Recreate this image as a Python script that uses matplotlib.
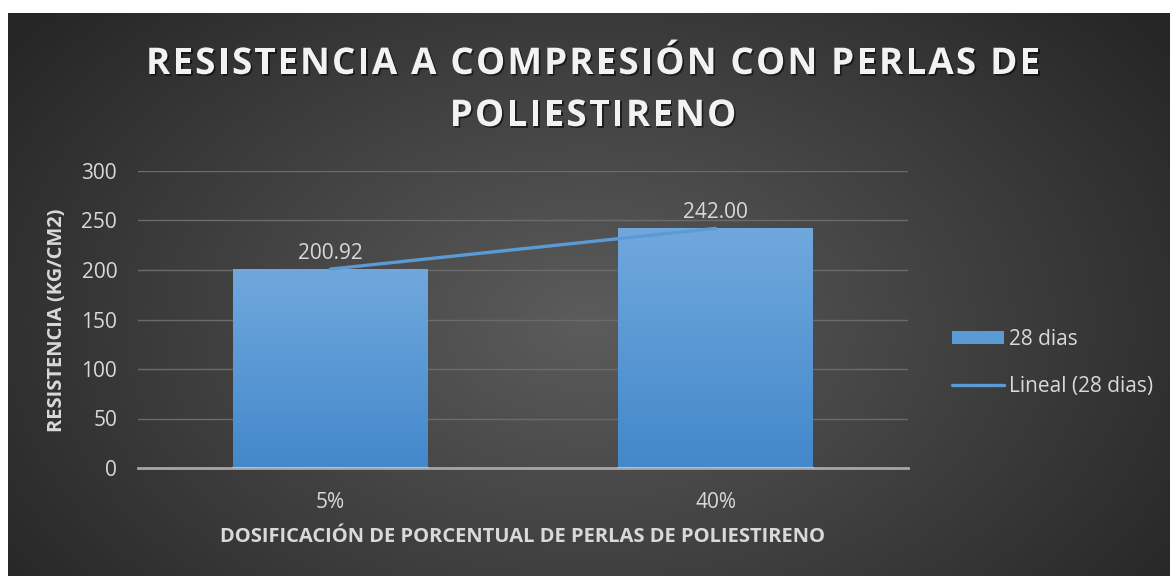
import numpy as np
import matplotlib
matplotlib.use("Agg")
import matplotlib.pyplot as plt
import matplotlib.patheffects as pe
from matplotlib.colors import LinearSegmentedColormap

plt.rcParams.update({"font.family": ["Open Sans", "DejaVu Sans"], "figure.dpi": 100})

categories = ["5%", "40%"]
values = [200.92, 242.00]
series_name = "28 dias"
trend_name = "Lineal (28 dias)"
title_lines = ["RESISTENCIA A COMPRESIÓN CON PERLAS DE", "POLIESTIRENO"]
xlabel = "DOSIFICACIÓN DE PORCENTUAL DE PERLAS DE POLIESTIRENO"
ylabel = "RESISTENCIA (KG/CM2)"
yticks = [0, 50, 100, 150, 200, 250, 300]

W, H = 1170, 576
TXT = "#d9d9d9"
BAR_TOP, BAR_BOT = "#70a8dd", "#4388cb"
LINE = "#5b9bd5"


def fx(px):
    return px / W


def fy(py):
    return 1 - py / H


fig = plt.figure(figsize=(W / 100, H / 100), dpi=100)
fig.patch.set_facecolor("white")

# dark radial background panel
bg = fig.add_axes([fx(8), 0, 1 - fx(8), fy(13)])
bg.set_axis_off()
gx, gy = np.meshgrid(np.linspace(0, 1, 400), np.linspace(0, 1, 200))
r = np.sqrt(((gx - 0.5) / 0.62) ** 2 + ((gy - 0.55) / 0.85) ** 2)
r = np.clip(r, 0, 1)
c0, c1 = np.array([0x5c, 0x5c, 0x5c]) / 255, np.array([0x26, 0x26, 0x26]) / 255
img = c0[None, None, :] * (1 - r[..., None]) + c1[None, None, :] * r[..., None]
bg.imshow(img, aspect="auto", extent=[0, 1, 0, 1], origin="upper")

ax = fig.add_axes([fx(138), fy(468), fx(908 - 138), fy(171) - fy(468)])
ax.patch.set_alpha(0)
x = np.arange(len(categories))
bars = ax.bar(x, values, width=0.505, color="none", zorder=3)
grad = LinearSegmentedColormap.from_list("bar", [BAR_BOT, BAR_TOP])
for b in bars:
    x0, w, h = b.get_x(), b.get_width(), b.get_height()
    im = ax.imshow(np.linspace(0, 1, 100).reshape(-1, 1), cmap=grad, origin="lower",
                   extent=[x0, x0 + w, 0, h], aspect="auto", zorder=3)
    im.set_clip_path(b)
    ax.plot([x0, x0 + w], [0, 0], color="#9fc4ea", lw=1.5, zorder=4)

# linear trend through bar centres
coef = np.polyfit(x, values, 1)
ax.plot(x, np.polyval(coef, x), color=LINE, lw=2.4, solid_capstyle="round", zorder=5)

for xi, v in zip(x, values):
    ax.annotate(f"{v:.2f}", (xi, v), xytext=(0, 4), textcoords="offset points",
                ha="center", va="bottom", color=TXT, fontsize=15, zorder=6)

ax.set_xlim(-0.5, 1.5)
ax.set_ylim(0, 300)
ax.set_yticks(yticks)
ax.set_xticks(x)
ax.set_xticklabels(categories)
ax.tick_params(axis="both", length=0, colors=TXT, labelsize=15)
ax.tick_params(axis="y", pad=15)
ax.tick_params(axis="x", pad=17)
ax.grid(axis="y", color="#6b6b6b", lw=1, zorder=0)
for s in ["top", "right", "left"]:
    ax.spines[s].set_visible(False)
ax.spines["bottom"].set_color("#a6a6a6")
ax.spines["bottom"].set_linewidth(2)
ax.spines["bottom"].set_zorder(2)

leg = ax.legend([bars[0], ax.lines[-1]], [series_name, trend_name],
                loc="center left", bbox_to_anchor=(fx(933), fy(363)),
                bbox_transform=fig.transFigure, frameon=False, fontsize=15,
                labelcolor=TXT, handlelength=2.5, handleheight=0.62,
                handletextpad=0.25, labelspacing=1.25)
hp = leg.get_patches()[0]
hp.set_facecolor("#5b9bd5")

# axis titles
fig.text(fx(523), fy(537), xlabel, ha="center", va="center", color=TXT,
         fontsize=14.5, fontweight="bold")
fig.text(fx(57), fy(320), ylabel, ha="center", va="center", rotation=90,
         color=TXT, fontsize=14.5, fontweight="bold")

# letter-spaced chart title
renderer = fig.canvas.get_renderer()
tkw = dict(fontsize=26.5, fontweight="bold", color="#f2f2f2")


def adv(ch):
    t1 = fig.text(0, 0, "x" + ch + "x", **tkw)
    t2 = fig.text(0, 0, "xx", **tkw)
    w = t1.get_window_extent(renderer).width - t2.get_window_extent(renderer).width
    t1.remove()
    t2.remove()
    return w


shadow = [pe.SimplePatchShadow(offset=(1.2, -1.2), shadow_rgbFace="black", alpha=0.55),
          pe.Normal()]
advs = [[adv(c) for c in line] for line in title_lines]
spacing = (1040 - 146 - sum(advs[0])) / (len(title_lines[0]) - 1)
for line, a, base in zip(title_lines, advs, [74, 126]):
    total = sum(a) + spacing * (len(line) - 1)
    cx = 593 - total / 2
    for ch, w in zip(line, a):
        if ch != " ":
            fig.text(fx(cx), fy(base), ch, ha="left", va="baseline",
                     path_effects=shadow, **tkw)
        cx += w + spacing

fig.savefig("out.png", dpi=100, facecolor=fig.get_facecolor())
